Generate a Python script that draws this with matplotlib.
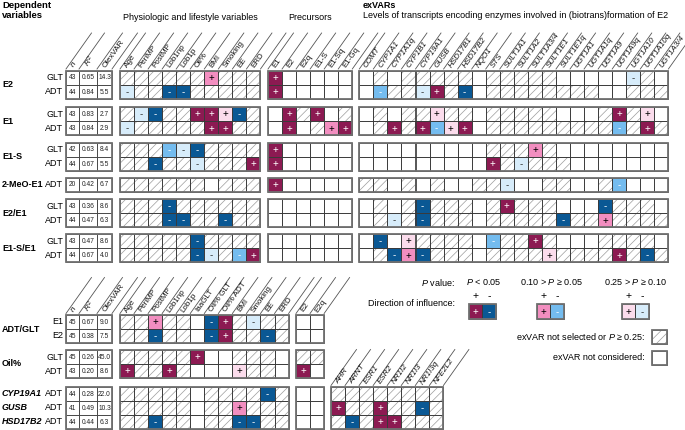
import matplotlib.pyplot as plt
from matplotlib.patches import Rectangle

plt.rcParams['font.family'] = ['Liberation Sans', 'DejaVu Sans']
plt.rcParams['mathtext.fontset'] = 'custom'
plt.rcParams['mathtext.rm'] = 'Liberation Sans'
plt.rcParams['mathtext.it'] = 'Liberation Sans:italic'
plt.rcParams['hatch.linewidth'] = 0.5

# cell codes: "/" exVAR not selected or P >= 0.25, "." not considered
# A / a : P < 0.05 (+ / -), B / b : 0.10 > P >= 0.05, C / c : 0.25 > P >= 0.10

# ---- upper panel ----
top_physio_cols = ["Age", "PeriMP", "PostMP", "Lob1np", "Lob1p", "Oil%", "BMI",
                   "Smoking", "EE", "ERD"]
top_prec_cols = ["E1", "E2", "E2q", "E1-S", "E1-Sq", "E1-Gq"]
exvar_cols = ["COMT", "CYP1A1", "CYP1A1q", "CYP1B1", "CYP19A1", "GUSB", "HSD17B1",
              "HSD17B2", "NQO1", "STS", "SULT1A1", "SULT1A2", "SULT1A3/4", "SULT1E1",
              "SULT1E1q", "UGT1A1", "UGT1A1q", "UGT1A9", "UGT1A9q", "UGT1A10",
              "UGT1A10q", "UGT1A3/4"]

top_groups = ["E2", "E1", "E1-S", "2-MeO-E1", "E2/E1", "E1-S/E1"]
top_group_rows = [["GLT", "ADT"], ["GLT", "ADT"], ["GLT", "ADT"], ["ADT"],
                  ["GLT", "ADT"], ["GLT", "ADT"]]

top_n = [43, 44, 43, 43, 42, 44, 20, 43, 44, 43, 44]
top_r2 = ["0.65", "0.84", "0.83", "0.84", "0.63", "0.67", "0.42", "0.36", "0.47", "0.47", "0.67"]
top_ol = ["14.3", "5.5", "2.7", "2.9", "8.4", "5.5", "6.7", "8.6", "6.3", "8.6", "4.0"]

top_physio = [
    "/ / / / / / B / / /",
    "c / / a a / / / / /",
    "/ c a / / A A C a /",
    "c / / / / / A A / /",
    "/ / / b c a / / / /",
    "/ / a / / c / / / A",
    "/ / / / / / . / / /",
    "/ / / a / / / / / /",
    "/ / / a a / / a / /",
    "/ / / / / a / / / /",
    "/ / / / / a c / b A",
]
top_prec = [
    "A . . . . .",
    "A . . . . .",
    ". A / A . /",
    ". A . / B A",
    "A . . . . .",
    "A . . . . .",
    "A . . . . .",
    ". . . . . .",
    ". . . . . .",
    ". . . . . .",
    ". . . . . .",
]
top_exvar = [
    ". / . / / / / / . / / / / / . . . . . c / .",
    ". b / / c A / a . / / / / / / / / . . / / /",
    ". / . / / C / / . / / / / / . . . / A / C .",
    ". / A / A b C A . / / / / / / / / / b / A /",
    ". . . . . . . . . / / / B / . . . . . . . .",
    ". . . . . . . . . A / c / / / . . . . . . .",
    "/ / . / . / . . / / c . . / / . . / b . . .",
    ". / . / a / / / . / A / / / . . . a / / / .",
    ". / c / a / / / . / / / / / a / / B / / / /",
    ". a . C / / / / . b / / A / . . . / / / / .",
    ". / a B a / / / . / / / / C / / / / A / a /",
]

# ---- lower panel ----
bot_physio_cols = ["Age", "PeriMP", "PostMP", "Lob1np", "Lob1p", "IaaGLT", "Oil% GLT",
                   "Oil% ADT", "BMI", "Smoking", "EE", "ERD"]
bot_prec_cols = ["E2", "E2q"]
tf_cols = ["AHR", "ARNT", "ESR1", "ESR2", "NR1I2", "NR1I3", "NR1I3q", "NFE2L2"]

bot_groups = ["ADT/GLT", "Oil%"]
bot_group_rows = [["E1", "E2"], ["GLT", "ADT"]]
gene_rows = ["CYP19A1", "GUSB", "HSD17B2"]

bot_n = [45, 45, 45, 43, 44, 41, 44]
bot_r2 = ["0.67", "0.38", "0.26", "0.20", "0.28", "0.49", "0.44"]
bot_ol = ["9.0", "7.5", "45.0", "8.6", "22.0", "10.3", "6.3"]

bot_physio = [
    "/ / B / / . a A / c / /",
    "/ / a / / . a A / / a /",
    "/ / / / / A . . / / / .",
    "A / / A / . . . C / / .",
    "/ / / / / . / / / / a /",
    "/ / / / / . / / B / / /",
    "/ / a / / . / / a a / /",
]
bot_prec = [". .", ". .", "/ /", "A .", ". .", ". .", ". ."]
gene_tf = [
    "/ / / / / / / /",
    "A / / A / / a /",
    "/ a / A A / / /",
]

FILL = {'A': '#8c1a52', 'a': '#0a5894', 'B': '#f28ec0', 'b': '#74bcef',
        'C': '#fbdcec', 'c': '#d7ecfa'}
SIGN = {'A': '+', 'a': '-', 'B': '+', 'b': '-', 'C': '+', 'c': '-'}
SIGN_COL = {'A': 'white', 'a': 'white', 'B': 'black', 'b': 'white',
            'C': 'black', 'c': '#333333'}
GRID = '#3a3a3a'
OUTER = '#707070'
HATCH = '#9c9c9c'
CW = 14.05
RH = 14.2
DX, DY = 25.5, 36
ROT = 54.7
FS = 6.5

fig = plt.figure(figsize=(6.85, 4.30), dpi=100)
ax = fig.add_axes([0, 0, 1, 1])
ax.set_xlim(0, 685)
ax.set_ylim(430, 0)
ax.axis('off')


def cell(x, y, w, h, code):
    if code == '/':
        ax.add_patch(Rectangle((x, y), w, h, facecolor='white', edgecolor=HATCH,
                               lw=0, hatch='////', zorder=1))
    elif code == '.':
        ax.add_patch(Rectangle((x, y), w, h, facecolor='white', lw=0, zorder=1))
    else:
        ax.add_patch(Rectangle((x, y), w, h, facecolor=FILL[code], lw=0, zorder=1))
        ax.text(x + w / 2, y + h / 2 + 0.3, SIGN[code], color=SIGN_COL[code],
                ha='center', va='center', fontsize=7, zorder=4)
    ax.add_patch(Rectangle((x, y), w, h, fill=False, edgecolor=GRID, lw=0.6, zorder=2))


def block(x0, y0, rows, h=RH):
    # rows: list of code strings
    for i, r in enumerate(rows):
        for j, c in enumerate(r.split()):
            cell(x0 + j * CW, y0 + i * h, CW, h, c)
    ncol = len(rows[0].split())
    ax.add_patch(Rectangle((x0, y0), ncol * CW, len(rows) * h, fill=False,
                           edgecolor=OUTER, lw=1.3, zorder=3))


STAT_X = 66
STAT_W = [13, 18, 15]


def stats(y0, ns, r2s, ols, h=RH):
    for i in range(len(ns)):
        x = STAT_X
        for w, v in zip(STAT_W, [str(ns[i]), r2s[i], ols[i]]):
            ax.add_patch(Rectangle((x, y0 + i * h), w, h, facecolor='white',
                                   edgecolor=GRID, lw=0.6, zorder=2))
            ax.text(x + w / 2, y0 + i * h + h / 2 + 0.3, v, fontsize=4.8,
                    ha='center', va='center', color='#222222', zorder=4)
            x += w
    ax.add_patch(Rectangle((STAT_X, y0), sum(STAT_W), len(ns) * h, fill=False,
                           edgecolor=OUTER, lw=1.3, zorder=3))


def headers(x0, widths, top, labels, italic=False):
    xs = [x0]
    for w in widths:
        xs.append(xs[-1] + w)
    for x in xs:
        ax.plot([x, x + DX], [top - 1.5, top - 1.5 - DY], color='#555555', lw=0.6)
    for i, lab in enumerate(labels):
        ax.text(xs[i] + widths[i] * 0.55, top - 2.5, lab, rotation=ROT,
                rotation_mode='anchor', ha='left', va='baseline', fontsize=5.8,
                style='italic' if italic else 'normal', color='#111111')


stat_labels = ["$n$", "$R^2$", "OlexVAR"]

# ---------- upper panel ----------
PHYS_X = 120
PREC_X = 268
EXV_X = 359.3
top_group_y = [70.5, 107, 142.5, 177.5, 199, 234]

ax.text(2, 5, "Dependent", fontsize=6.8, fontweight='bold', va='center')
ax.text(2, 16, "variables", fontsize=6.8, fontweight='bold', va='center')
ax.text(PHYS_X + 5 * CW, 17, "Physiologic and lifestyle variables", fontsize=FS,
        ha='center', va='center')
ax.text(PREC_X + 3 * CW, 17, "Precursors", fontsize=FS, ha='center', va='center')
ax.text(363, 6, "exVARs", fontsize=FS, fontweight='bold', va='center')
ax.text(363, 16, "Levels of transcripts encoding enzymes involved in (biotrans)formation of E2",
        fontsize=FS, va='center')

top0 = top_group_y[0]
headers(STAT_X, STAT_W, top0, stat_labels)
headers(PHYS_X, [CW] * len(top_physio_cols), top0, top_physio_cols)
headers(PREC_X, [CW] * len(top_prec_cols), top0, top_prec_cols)
headers(EXV_X, [CW] * len(exvar_cols), top0, exvar_cols, italic=True)

k = 0
for g, rows, gy in zip(top_groups, top_group_rows, top_group_y):
    nr = len(rows)
    ax.text(2, gy + nr * RH / 2, g, fontsize=FS, fontweight='bold', va='center')
    for i, r in enumerate(rows):
        ax.text(63, gy + i * RH + RH / 2, r, fontsize=FS, ha='right', va='center')
    stats(gy, top_n[k:k + nr], top_r2[k:k + nr], top_ol[k:k + nr])
    block(PHYS_X, gy, top_physio[k:k + nr])
    block(PREC_X, gy, top_prec[k:k + nr])
    block(EXV_X, gy, top_exvar[k:k + nr])
    k += nr

# ---------- lower panel ----------
RB = 14.0
BPREC_X = 296
TF_X = 331
bot_group_y = [315, 350]
gene_y = 387

headers(STAT_X, STAT_W, bot_group_y[0], stat_labels)
headers(PHYS_X, [CW] * len(bot_physio_cols), bot_group_y[0], bot_physio_cols)
headers(BPREC_X, [CW] * len(bot_prec_cols), bot_group_y[0], bot_prec_cols)
headers(TF_X, [CW] * len(tf_cols), gene_y, tf_cols, italic=True)

k = 0
for g, rows, gy in zip(bot_groups, bot_group_rows, bot_group_y):
    nr = len(rows)
    ax.text(2, gy + nr * RB / 2, g, fontsize=FS, fontweight='bold', va='center')
    for i, r in enumerate(rows):
        ax.text(63, gy + i * RB + RB / 2, r, fontsize=FS, ha='right', va='center')
    stats(gy, bot_n[k:k + nr], bot_r2[k:k + nr], bot_ol[k:k + nr], h=RB)
    block(PHYS_X, gy, bot_physio[k:k + nr], h=RB)
    block(BPREC_X, gy, bot_prec[k:k + nr], h=RB)
    k += nr

ng = len(gene_rows)
for i, gname in enumerate(gene_rows):
    yc = gene_y + i * RB + RB / 2
    ax.text(2, yc, gname, fontsize=FS, fontweight='bold', style='italic', va='center')
    ax.text(63, yc, "ADT", fontsize=FS, ha='right', va='center')
stats(gene_y, bot_n[k:k + ng], bot_r2[k:k + ng], bot_ol[k:k + ng], h=RB)
block(PHYS_X, gene_y, bot_physio[k:k + ng], h=RB)
block(BPREC_X, gene_y, bot_prec[k:k + ng], h=RB)
block(TF_X, gene_y, gene_tf, h=RB)

# ---------- legend ----------
ax.text(455, 282, "$P$ value:", fontsize=FS, ha='right', va='center')
ax.text(455, 303, "Direction of influence:", fontsize=FS, ha='right', va='center')
p_labels = ["$P$ < 0.05", "0.10 > $P$ ≥ 0.05", "0.25 > $P$ ≥ 0.10"]
p_centers = [484, 551, 635]
sw_x = [469, 537, 622]
sw_codes = [("A", "a"), ("B", "b"), ("C", "c")]
for lab, xc, sx, codes in zip(p_labels, p_centers, sw_x, sw_codes):
    ax.text(xc, 282, lab, fontsize=FS, ha='center', va='center')
    for j, c in enumerate(codes):
        cell(sx + j * 13.5, 304, 13.5, 15, c)
        ax.text(sx + j * 13.5 + 6.75, 296.5, SIGN[c], fontsize=7.5, ha='center', va='center')
    ax.add_patch(Rectangle((sx, 304), 27, 15, fill=False, edgecolor=OUTER, lw=1.3, zorder=3))

ax.text(645, 337, "exVAR not selected or $P$ ≥ 0.25:", fontsize=FS, ha='right', va='center')
cell(652, 329.5, 15, 14.5, '/')
ax.add_patch(Rectangle((652, 329.5), 15, 14.5, fill=False, edgecolor=OUTER, lw=1.3, zorder=3))
ax.text(645, 358, "exVAR not considered:", fontsize=FS, ha='right', va='center')
cell(652, 350.5, 15, 14.5, '.')
ax.add_patch(Rectangle((652, 350.5), 15, 14.5, fill=False, edgecolor=OUTER, lw=1.3, zorder=3))

fig.savefig("out.png", dpi=100)
